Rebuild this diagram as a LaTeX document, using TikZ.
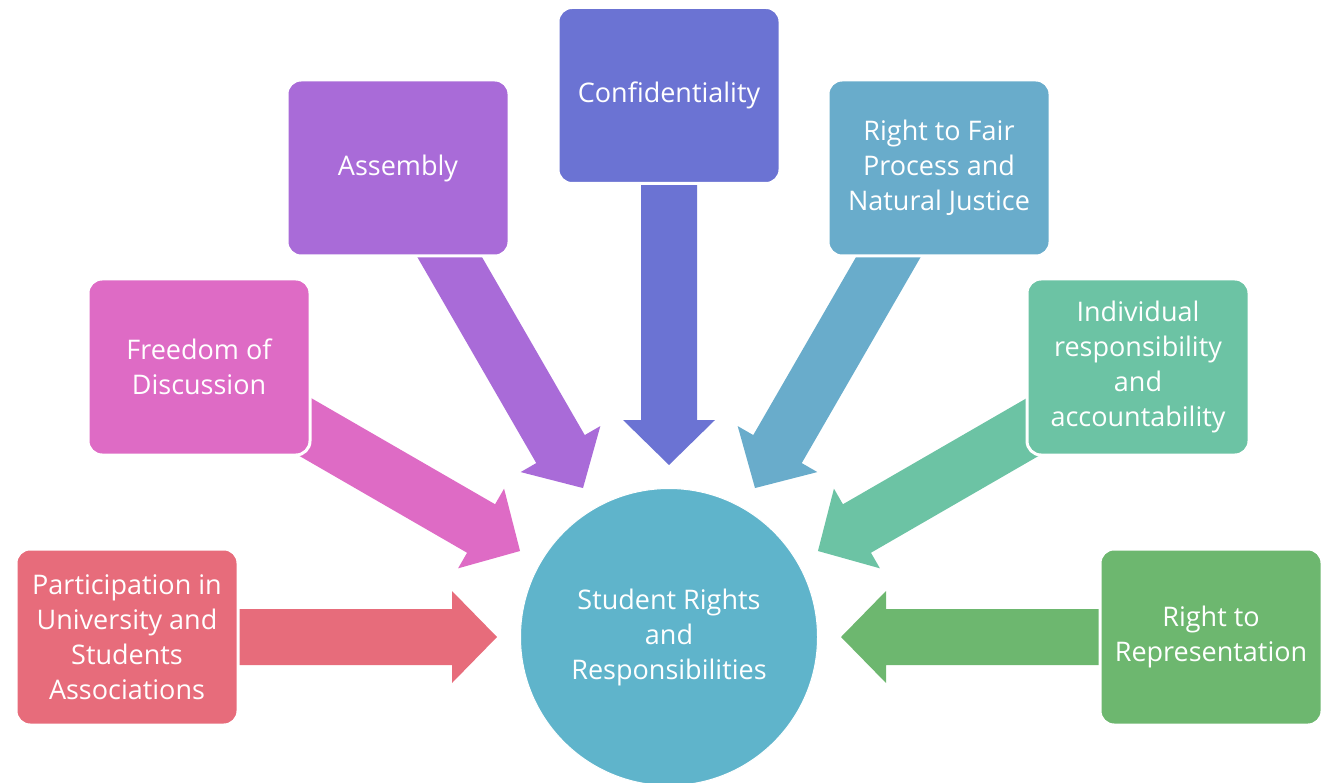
\documentclass[tikz,border=0pt]{standalone}
\usepackage{fontspec}
\setmainfont{Open Sans}
\definecolor{cA}{HTML}{E76C7B}
\definecolor{cB}{HTML}{DE6BC5}
\definecolor{cC}{HTML}{A96BD8}
\definecolor{cD}{HTML}{6B73D3}
\definecolor{cE}{HTML}{69ACCB}
\definecolor{cF}{HTML}{6CC3A4}
\definecolor{cG}{HTML}{6DB76F}
\definecolor{cHub}{HTML}{5FB4CB}
\begin{document}
\begin{tikzpicture}[x=1pt,y=-1pt,
  box/.style={rectangle, rounded corners=14pt, draw=white, line width=3pt,
    minimum width=222pt, minimum height=176pt, text=white, align=center,
    font=\fontsize{27}{35}\selectfont, inner sep=0pt},
  hub/.style={circle, draw=white, line width=1pt, fill=cHub, minimum size=297pt,
    text=white, align=center, font=\fontsize{27}{35}\selectfont, inner sep=0pt}]
\useasboundingbox (0,0) rectangle (1329,783);
\node[hub] (hub) at (669,637) {Student Rights\\and\\Responsibilities};
\foreach \ang/\col in {180/cA,150/cB,120/cC,90/cD,60/cE,30/cF,0/cG}{
  \fill[\col, shift={(hub.center)}, rotate=\ang]
    (172,0) -- (217,46) -- (217,28) -- (470,28) -- (470,-28)
    -- (217,-28) -- (217,-46) -- cycle;
}
\node[box, fill=cA] (part) at (127,637) {Participation in\\University and\\Students\\Associations};
\node[box, fill=cB] (free) at (199,367) {Freedom of\\Discussion};
\node[box, fill=cC] (asm) at (398,168) {Assembly};
\node[box, fill=cD] (conf) at (669,95.5) {Confidentiality};
\node[box, fill=cE] (fair) at (939,168) {Right to Fair\\Process and\\Natural Justice};
\node[box, fill=cF] (indiv) at (1138,367) {Individual\\responsibility\\and\\accountability};
\node[box, fill=cG] (rep) at (1211,637) {Right to\\Representation};
\end{tikzpicture}
\end{document}
